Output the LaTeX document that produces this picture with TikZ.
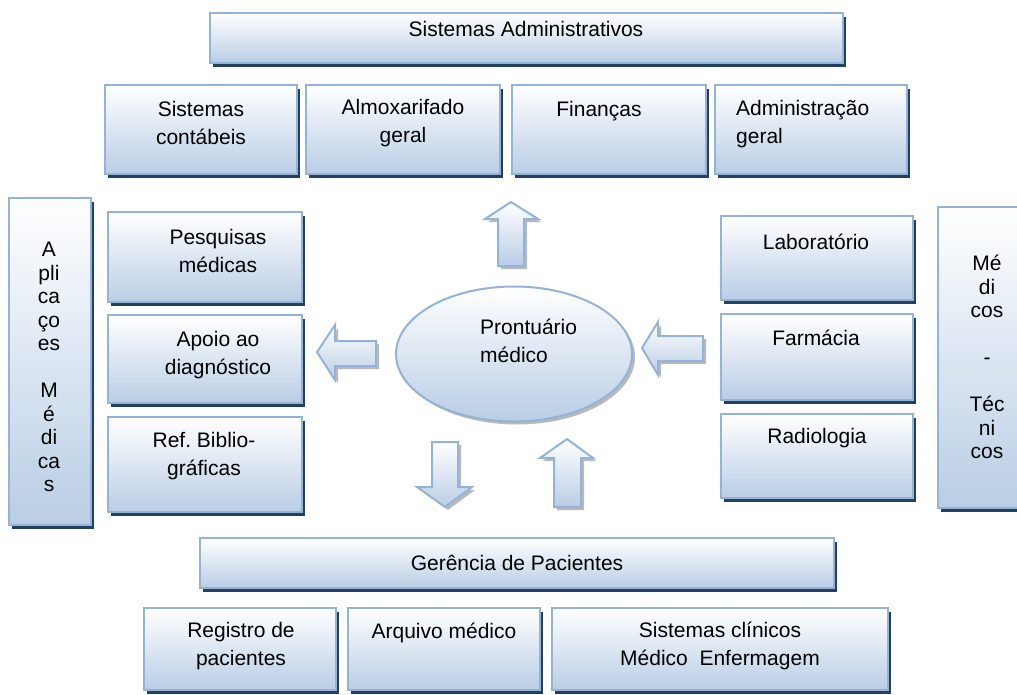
\documentclass[tikz,border=0pt]{standalone}
\usepackage{fontspec}
\setmainfont{Liberation Sans}
\usetikzlibrary{shadows,shapes.geometric}
\definecolor{edgeblue}{RGB}{149,179,215}
\definecolor{fillblue}{RGB}{185,205,229}
\definecolor{shadownavy}{RGB}{36,64,97}
\tikzset{
  box/.style={draw=edgeblue, line width=2.2pt, top color=white, bottom color=fillblue, inner sep=0pt,
    drop shadow={shadow xshift=3pt, shadow yshift=-4pt, fill=shadownavy, opacity=1}},
  blk/.style={draw=edgeblue, line width=2pt, top color=white, bottom color=fillblue,
    drop shadow={shadow xshift=3pt, shadow yshift=-3pt, fill=gray, opacity=.55}},
  lbl/.style={font=\fontsize{21}{27.5}\selectfont, align=center, inner sep=0pt},
  vlbl/.style={font=\fontsize{21}{23.5}\selectfont, align=center, inner sep=0pt},
}
\begin{document}
\begin{tikzpicture}[x=1pt, y=-1pt]
\useasboundingbox (0,0) rectangle (1017,694);

\node[box, minimum width=633, minimum height=50] (sisadm) at (526.5,38) {};
\node[lbl] (sisadmT) at (526,29) {Sistemas Administrativos};

\node[box, minimum width=192, minimum height=89] (contab) at (201,129.5) {};
\node[box, minimum width=194, minimum height=89] (almox) at (403,129.5) {};
\node[box, minimum width=194, minimum height=89] (financ) at (609,129.5) {};
\node[box, minimum width=192, minimum height=89] (admger) at (811,129.5) {};
\node[lbl] (contabT) at (201,123) {Sistemas\\contábeis};
\node[lbl] (almoxT) at (403,123) {Almoxarifado\\geral};
\node[lbl] (financT) at (599,111) {Finanças};
\node[lbl, align=left, anchor=west] (admgerT) at (736,124) {Administração\\geral};

\node[box, minimum width=82, minimum height=327] (aplic) at (50,361.5) {};
\node[vlbl] (aplicT) at (49,367) {A\\pli\\ca\\ço\\es\\\mbox{}\\M\\é\\di\\ca\\s};

\node[box, minimum width=194, minimum height=90] (pesq) at (205,257) {};
\node[box, minimum width=194, minimum height=88] (apoio) at (205,359) {};
\node[box, minimum width=194, minimum height=95] (refbib) at (205,464.5) {};
\node[lbl] (pesqT) at (218,251) {Pesquisas\\médicas};
\node[lbl] (apoioT) at (218,355) {Apoio ao\\diagnóstico};
\node[lbl] (refbibT) at (204,456) {Ref.\ Biblio-\\gráficas};

\node[ellipse, draw=edgeblue, line width=2pt, top color=white, bottom color=fillblue,
  drop shadow={shadow xshift=3pt, shadow yshift=-3pt, fill=gray, opacity=.55},
  minimum width=236, minimum height=135, inner sep=0pt] (pront) at (514,354) {};
\node[lbl, align=left, anchor=west] (prontT) at (480,341) {Prontuário\\médico};

\node[box, minimum width=192, minimum height=84] (lab) at (817,258) {};
\node[box, minimum width=192, minimum height=86] (farm) at (817,357) {};
\node[box, minimum width=192, minimum height=84] (radio) at (817,456) {};
\node[lbl] (labT) at (816,242) {Laboratório};
\node[lbl] (farmT) at (816,338) {Farmácia};
\node[lbl] (radioT) at (817,438) {Radiologia};

\node[box, minimum width=98, minimum height=301] (medtec) at (987,357.5) {};
\node[vlbl] (medtecT) at (987,357) {Mé\\di\\cos\\\mbox{}\\-\\\mbox{}\\Téc\\ni\\cos};

\node[box, minimum width=634, minimum height=50] (gerpac) at (517,563) {};
\node[lbl] (gerpacT) at (517,563) {Gerência de Pacientes};

\node[box, minimum width=192, minimum height=82] (regpac) at (240,649) {};
\node[box, minimum width=192, minimum height=82] (arqmed) at (444,649) {};
\node[box, minimum width=336, minimum height=82] (sisclin) at (720,649) {};
\node[lbl] (regpacT) at (241,646) {Registro de\\pacientes};
\node[lbl] (arqmedT) at (444,633) {Arquivo médico};
\node[lbl] (sisclinT) at (720,646) {Sistemas clínicos\\Médico\ \ Enfermagem};

\draw[blk] (511,202) -- ++(27,17) -- ++(-14,0) -- ++(0,47) -- ++(-26,0) -- ++(0,-47) -- ++(-13,0) -- cycle;
\draw[blk] (317,352) -- ++(18,-27) -- ++(0,16) -- ++(41,0) -- ++(0,25) -- ++(-41,0) -- ++(0,14) -- cycle;
\draw[blk] (642,348) -- ++(16,-26) -- ++(0,14) -- ++(45,0) -- ++(0,25) -- ++(-45,0) -- ++(0,14) -- cycle;
\draw[blk] (445,507) -- ++(27,-20) -- ++(-14,0) -- ++(0,-45) -- ++(-26,0) -- ++(0,45) -- ++(-15,0) -- cycle;
\draw[blk] (567,439) -- ++(26,19) -- ++(-12,0) -- ++(0,49) -- ++(-27,0) -- ++(0,-49) -- ++(-14,0) -- cycle;
\end{tikzpicture}
\end{document}
